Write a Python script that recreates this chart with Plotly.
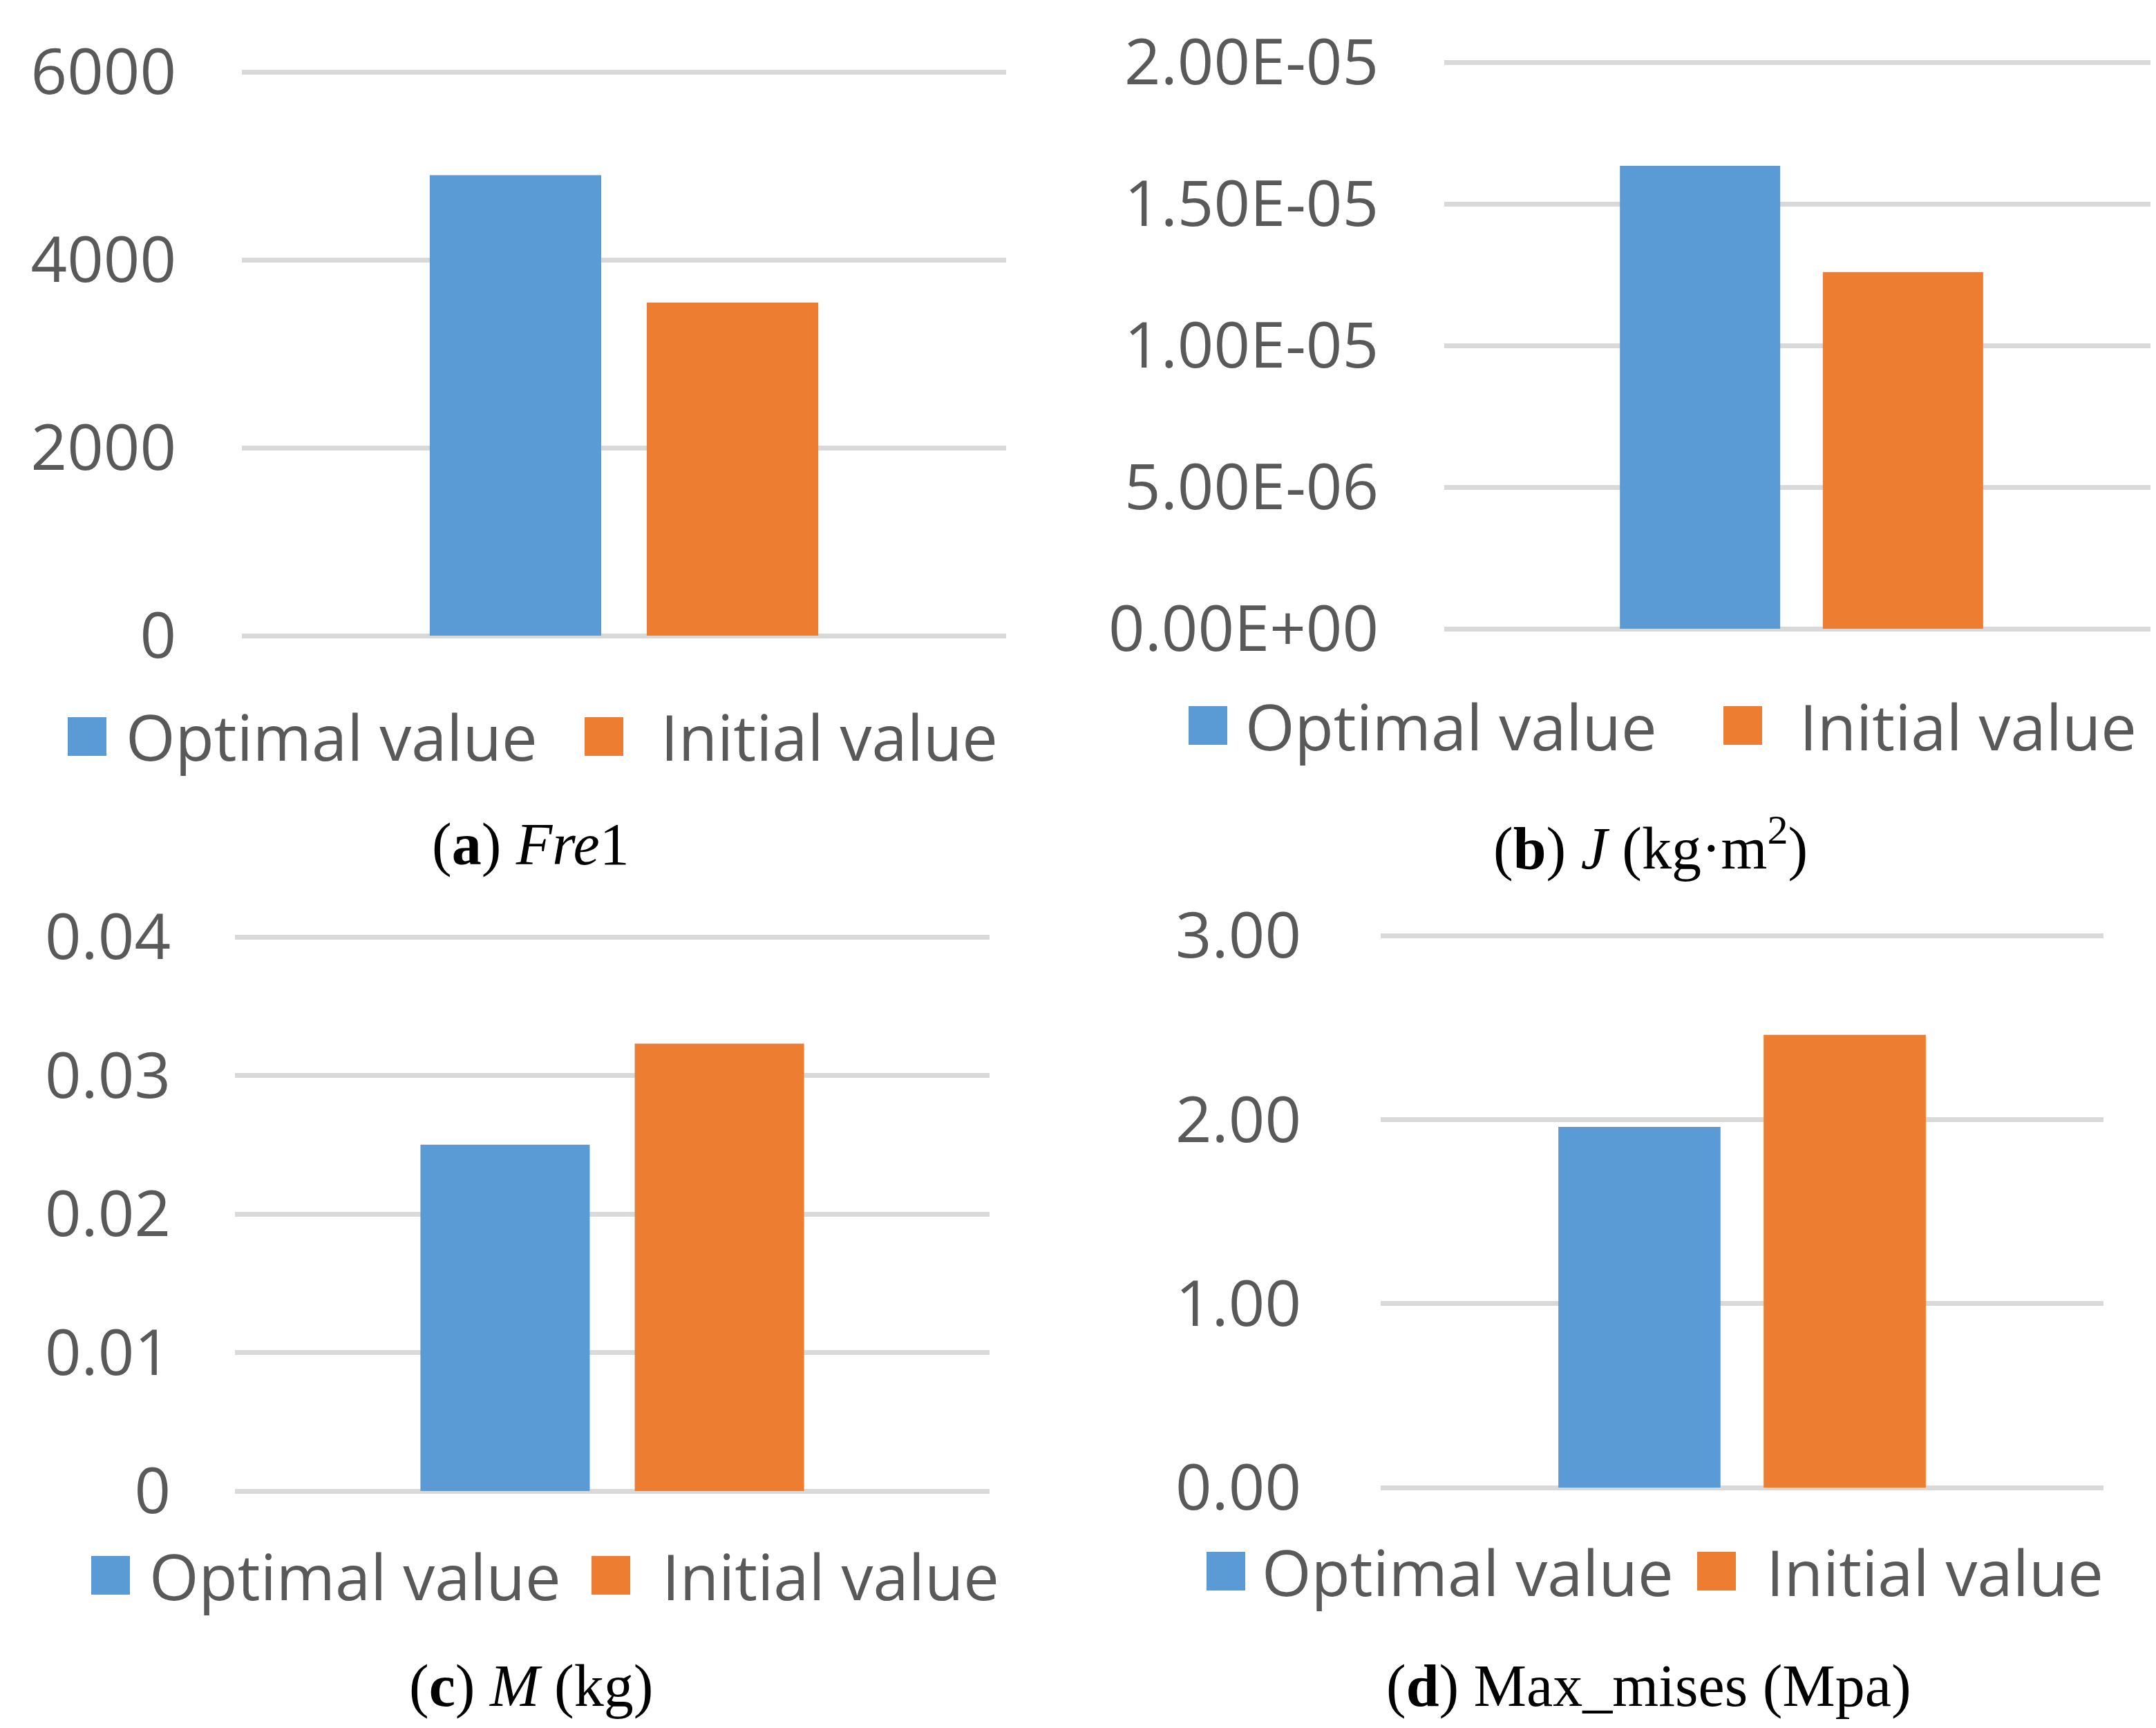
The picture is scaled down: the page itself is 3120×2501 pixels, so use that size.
import plotly.graph_objects as go

W, H = 3120, 2501

# ---------------- data ----------------
panels = ["Fre1", "J", "M", "Max_mises"]
series_names = ["Optimal value", "Initial value"]
optimal_values = [4900, 1.634e-5, 0.0250, 1.96]
initial_values = [3545, 1.259e-5, 0.0323, 2.46]
y_ranges = [[0, 6000], [0, 2.0e-5], [0, 0.04], [0, 3.0]]
tick_vals = [
    [0, 2000, 4000, 6000],
    [0, 5e-6, 1e-5, 1.5e-5, 2e-5],
    [0, 0.01, 0.02, 0.03, 0.04],
    [0, 1, 2, 3],
]
tick_text = [
    ["0", "2000", "4000", "6000"],
    ["0.00E+00", "5.00E-06", "1.00E-05", "1.50E-05", "2.00E-05"],
    ["0", "0.01", "0.02", "0.03", "0.04"],
    ["0.00", "1.00", "2.00", "3.00"],
]
captions = [
    "(<b>a</b>) <i>Fre</i>1",
    "(<b>b</b>) <i>J</i> (kg·m<sup>2</sup>)",
    "(<b>c</b>) <i>M</i> (kg)",
    "(<b>d</b>) Max_mises (Mpa)",
]

# ---------------- style / layout ----------------
colors = ["#5B9BD5", "#ED7D31"]
grid_color = "#D9D9D9"
text_color = "#595959"
sans = "Open Sans"
serif = "Liberation Serif"
tick_size = 92
legend_size = 92
caption_size = 86

# plot boxes in pixels: x0, x1, y of zero line, y of top line
boxes = [
    (342, 1448, 912, 96),
    (2082, 3116, 902, 82),
    (332, 1424, 2150, 1348),
    (1990, 3036, 2145, 1346),
]
standoffs = [94, 94, 92, 114]
# legend layout: y center, [square x0, text x0] for each series
legend_pos = [
    (1058, [(90, 172), (838, 946)]),
    (1042, [(1712, 1792), (2486, 2594)]),
    (2272, [(124, 206), (848, 948)]),
    (2266, [(1738, 1816), (2448, 2546)]),
]
caption_pos = [(760, 1214), (2380, 1214), (760, 2432), (2378, 2432)]
sq = 56
pad_px = 8  # small headroom so the top gridline is drawn


def px_x(v):
    return v / W


def px_y(v):
    return 1 - v / H


fig = go.Figure()
layout = dict(
    width=W, height=H,
    margin=dict(l=0, r=0, t=0, b=0, pad=0, autoexpand=False),
    paper_bgcolor="white", plot_bgcolor="white",
    showlegend=False,
    barmode="group", bargap=0.432, bargroupgap=0.21,
)
shapes = []
annotations = []

for i, name in enumerate(panels):
    ax = "" if i == 0 else str(i + 1)
    vals = [optimal_values[i], initial_values[i]]
    for s in range(2):
        fig.add_trace(go.Bar(
            x=[name], y=[vals[s]], name=series_names[s],
            marker=dict(color=colors[s], line=dict(width=0)),
            xaxis="x" + ax, yaxis="y" + ax,
        ))
    x0, x1, yb, yt = boxes[i]
    lo, hi = y_ranges[i]
    top = hi + (hi - lo) * pad_px / (yb - yt)
    layout["xaxis" + ax] = dict(
        domain=[px_x(x0), px_x(x1)], anchor="y" + ax, automargin=False,
        showticklabels=False, showgrid=False, showline=False, zeroline=False,
        ticks="", fixedrange=True,
    )
    layout["yaxis" + ax] = dict(
        domain=[px_y(yb), px_y(yt - pad_px)], anchor="x" + ax, automargin=False,
        range=[lo, top], tickvals=tick_vals[i], ticktext=tick_text[i],
        showgrid=True, gridcolor=grid_color, gridwidth=7,
        zeroline=True, zerolinecolor=grid_color, zerolinewidth=7,
        showline=False, ticks="", ticklabelstandoff=standoffs[i],
        tickfont=dict(family=sans, size=tick_size, color=text_color),
    )
    # legend
    ly, items = legend_pos[i]
    for s, (sx, tx) in enumerate(items):
        shapes.append(dict(
            type="rect", xref="paper", yref="paper",
            x0=px_x(sx), x1=px_x(sx + sq), y0=px_y(ly + sq / 2), y1=px_y(ly - sq / 2),
            fillcolor=colors[s], line=dict(width=0),
        ))
        annotations.append(dict(
            x=px_x(tx), y=px_y(ly), xref="paper", yref="paper",
            xanchor="left", yanchor="middle", showarrow=False,
            text=series_names[s],
            font=dict(family=sans, size=legend_size, color=text_color),
        ))
    cx, cy = caption_pos[i]
    annotations.append(dict(
        x=px_x(cx), y=px_y(cy), xref="paper", yref="paper",
        xanchor="center", yanchor="middle", showarrow=False,
        text=captions[i],
        font=dict(family=serif, size=caption_size, color="black"),
    ))

layout["shapes"] = shapes
layout["annotations"] = annotations
fig.update_layout(**layout)
fig.write_html("out.html")
